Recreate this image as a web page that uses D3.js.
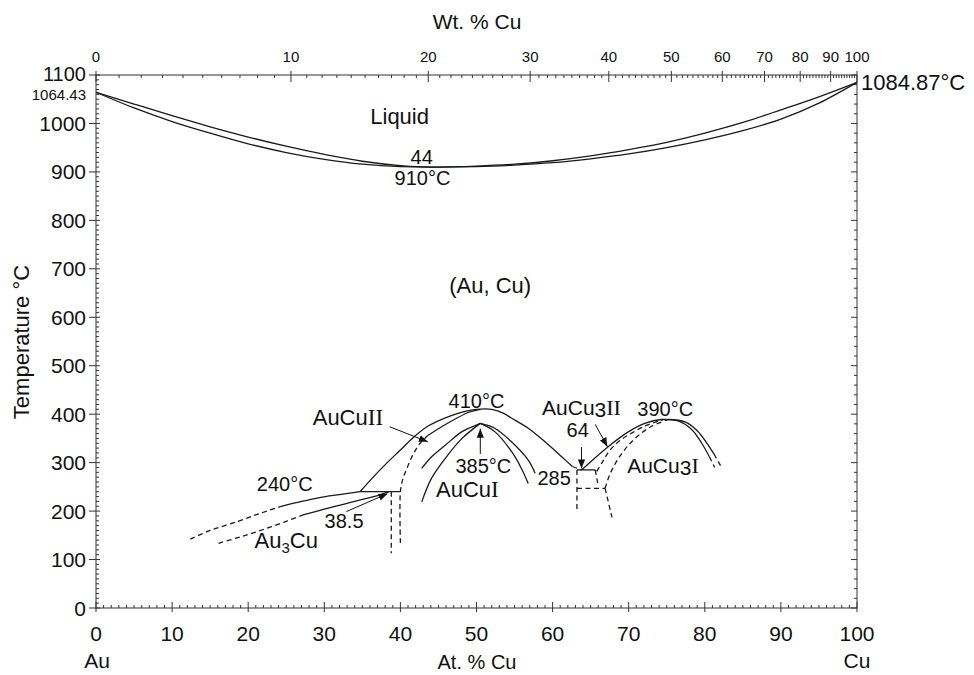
<!DOCTYPE html>
<html><head><meta charset="utf-8">
<script src="https://cdn.jsdelivr.net/npm/d3@7"></script>
<style>body{margin:0;background:#fff}svg text{font-family:"Liberation Sans",Arial,sans-serif;fill:#111}</style>
</head><body><svg id="c" width="974" height="675"></svg>
<script>
// ---------- data ----------
const AU_MASS = 196.967, CU_MASS = 63.546;
const atTicks = [0,10,20,30,40,50,60,70,80,90,100];
const tTicks = [0,100,200,300,400,500,600,700,800,900,1000,1100];
const wtTicks = [0,10,20,30,40,50,60,70,80,90,100];

// liquidus / solidus
const liqAt = [0,5,10,15,20,25,30,35,40,44,50,55,60,65,70,75,80,85,90,95,100];
const liqT  = [1064.43,1040,1016,993,972,953,936,922,913,910,912,916,923,933,946,961,980,1002,1028,1055,1084.87];
const solT  = [1064.43,1032,1004,980,958,940,926,916,911,910,911,914,919,927,937,950,966,985,1009,1042,1084.87];

// Au3Cu boundaries
const au3cuUpDashAt = [12.4,15,18.5,21.5,24.2];
const au3cuUpDashT  = [142,160,178,195,209];
const au3cuUpAt = [24.2,27,29.4,32,34.7];
const au3cuUpT  = [209,220,228,234,240];
const au3cuLoDashAt = [16.1,19,22,25,27.2];
const au3cuLoDashT  = [133.5,147,162,179,192];
const au3cuLoAt = [27.2,30,32.5,35,37,38.5];
const au3cuLoT  = [192,204,214,224,232,240];
const eutectoidAt = [34.7,40];
const eutectoidT  = [240,240];
const au3cuVertAt = [38.8,38.8];
const au3cuVertT  = [240,113];

// AuCuII
const outerDomeAt = [34.7,36.3,38.2,40,41.7,43.7,46.5,48.5,50,52,53.5,54.6,56.8,59,61.2,62.6];
const outerDomeT  = [240,268,299,326,352,376,396,406,410,410,402,392,371,343,312,292];
const outerDomeDashAt = [62.6,63.8];
const outerDomeDashT  = [292,285];
const cuIILeftDashAt = [40,40,40.3,40.9,41.6,42.5,43.6];
const cuIILeftDashT  = [134,240,265,290,315,338,356];
const cuIILeftAt = [43.6,45,47.2,49,50.5];
const cuIILeftT  = [356,370,390,404,410];

// AuCuI dome
const cuIOutLAt = [42.8,44.1,45.9,48.1,50.2,50.5];
const cuIOutLT  = [288,312,336,364,379,381];
const cuIInLAt  = [42.8,44.1,45.9,48.1,50.5];
const cuIInLT   = [219,268,309,350,381];
const cuIOutRAt = [50.5,52.4,54.6,56.8,57.7];
const cuIOutRT  = [381,371,343,305,278];
const cuIInRAt  = [50.5,52.4,54.6,55.9,56.8];
const cuIInRT   = [381,364,323,288,257];

// AuCu3 region
const cu3OuterAt = [63.8,67.3,70,72.1,74.3,76.5,78.3,79.6,80.6];
const cu3OuterT  = [285,333,364,381,389,386,368,340,312];
const cu3OuterDashAt = [80.6,81.3];
const cu3OuterDashT  = [312,290];
const cu3RightAt = [75.2,77.4,79,80.2,81.2];
const cu3RightT  = [389,384,366,342,318];
const cu3RightDashAt = [81.2,82.2];
const cu3RightDashT  = [318,290];
const cu3Dash1At = [65.8,66.5,67.5,68.8,70.5,72.5,74.5];
const cu3Dash1T  = [282,300,325,345,362,378,388];
const cu3Dash2At = [66.9,67.5,68.5,69.8,71.2,73,75.2];
const cu3Dash2T  = [247,275,305,333,355,375,389];
const cu3TopAt = [63.2,65.6];
const cu3TopT  = [285,285];
const cu3LeftVertAt = [63.2,63.2];
const cu3LeftVertT  = [285,202];
const cu3SmallVertAt = [65.6,66];
const cu3SmallVertT  = [285,252];
const cu3BottomAt = [63.2,66.9];
const cu3BottomT  = [247,247];
const cu3TailAt = [66.9,67.8];
const cu3TailT  = [247,187];

// arrows [x1,T1,x2,T2]
const arrows = [
  [38.6,374,43.6,343],
  [32.9,199,38.3,236],
  [50.5,318,50.5,370],
  [63.8,332,63.8,288],
  [65.6,379,67.2,333]
];

// ---------- drawing ----------
const svg = d3.select("#c");
const x = d3.scaleLinear([0,100],[96,857]);
const y = d3.scaleLinear([0,1100],[608,75]);
const wtToAt = w => { if (w>=100) return 100; const a=w/CU_MASS, b=(100-w)/AU_MASS; return 100*a/(a+b); };

svg.append("defs").append("marker").attr("id","ah").attr("viewBox","0 0 10 10")
  .attr("refX",10).attr("refY",5).attr("markerWidth",9).attr("markerHeight",9)
  .attr("markerUnits","userSpaceOnUse").attr("orient","auto")
  .append("path").attr("d","M0,1 L10,5 L0,9 Z").attr("fill","#111");

const g = svg.append("g");
g.append("rect").attr("x",x(0)).attr("y",y(1100)).attr("width",x(100)-x(0)).attr("height",y(0)-y(1100))
  .attr("fill","none").attr("stroke","#333").attr("stroke-width",1);

const tick = (x1,y1,x2,y2,w=1)=>g.append("line").attr("x1",x1).attr("y1",y1).attr("x2",x2).attr("y2",y2).attr("stroke","#333").attr("stroke-width",w);

// bottom axis
d3.range(0,101,1).forEach(v=>{ const maj = v%10===0; tick(x(v),y(0),x(v),y(0)-(maj?6:3)); if(maj) tick(x(v),y(0),x(v),y(0)+4);});
atTicks.forEach(v=>g.append("text").attr("x",x(v)).attr("y",y(0)+33).attr("text-anchor","middle").attr("font-size",21).text(v));
// left axis
d3.range(0,1101,10).forEach(v=>{ const maj=v%100===0; tick(x(0),y(v),x(0)+(maj?0:3),y(v)); if(maj) tick(x(0)-7,y(v),x(0)+4,y(v));});
tTicks.forEach(v=>g.append("text").attr("x",x(0)-10).attr("y",y(v)+(v===1100?6:7.5)).attr("text-anchor","end").attr("font-size",v===1100?20:21).text(v));
// right axis
d3.range(0,1101,20).forEach(v=>{ const maj=v%100===0; tick(x(100),y(v),x(100)-(maj?6:3),y(v)); });
// top axis
d3.range(0,101,1).forEach(w=>{ const maj = w%10===0; tick(x(wtToAt(w)),y(1100),x(wtToAt(w)),y(1100)+(maj?7:3)); if(maj) tick(x(wtToAt(w)),y(1100),x(wtToAt(w)),y(1100)-4);});
wtTicks.forEach(w=>g.append("text").attr("x",x(wtToAt(w))).attr("y",y(1100)-13).attr("text-anchor","middle").attr("font-size",15).text(w));

// axis titles
g.append("text").attr("x",477).attr("y",29).attr("text-anchor","middle").attr("font-size",21).text("Wt. % Cu");
g.append("text").attr("x",477).attr("y",669).attr("text-anchor","middle").attr("font-size",20).text("At. % Cu");
g.append("text").attr("transform","translate(29,342) rotate(-90)").attr("text-anchor","middle").attr("font-size",22).text("Temperature °C");
g.append("text").attr("x",x(0)+1).attr("y",668).attr("text-anchor","middle").attr("font-size",21).text("Au");
g.append("text").attr("x",x(100)).attr("y",668).attr("text-anchor","middle").attr("font-size",21).text("Cu");
g.append("text").attr("x",x(0)-10).attr("y",y(1064.43)+7.5).attr("text-anchor","end").attr("font-size",15).text("1064.43");
g.append("text").attr("x",x(100)+4).attr("y",y(1084.87)+8).attr("text-anchor","start").attr("font-size",22).text("1084.87°C");

// curves
const line = d3.line().x(d=>x(d[0])).y(d=>y(d[1])).curve(d3.curveCatmullRom.alpha(0.5));
const lineM = d3.line().x(d=>x(d[0])).y(d=>y(d[1])).curve(d3.curveMonotoneX);
const zip = (a,b)=>a.map((v,i)=>[v,b[i]]);
const draw = (a,b,dash,gen=line)=>g.append("path").attr("d",gen(zip(a,b))).attr("fill","none")
  .attr("stroke","#1a1a1a").attr("stroke-width",1.3).attr("stroke-dasharray",dash?"5,3.5":null);

draw(liqAt,liqT,false,lineM); draw(liqAt,solT,false,lineM);
draw(au3cuUpDashAt,au3cuUpDashT,true); draw(au3cuUpAt,au3cuUpT);
draw(au3cuLoDashAt,au3cuLoDashT,true); draw(au3cuLoAt,au3cuLoT);
draw(eutectoidAt,eutectoidT); draw(au3cuVertAt,au3cuVertT,true);
draw(outerDomeAt,outerDomeT); draw(outerDomeDashAt,outerDomeDashT,true);
draw(cuIILeftDashAt,cuIILeftDashT,true); draw(cuIILeftAt,cuIILeftT);
draw(cuIOutLAt,cuIOutLT); draw(cuIInLAt,cuIInLT); draw(cuIOutRAt,cuIOutRT); draw(cuIInRAt,cuIInRT);
draw(cu3OuterAt,cu3OuterT); draw(cu3OuterDashAt,cu3OuterDashT,true);
draw(cu3RightAt,cu3RightT); draw(cu3RightDashAt,cu3RightDashT,true);
draw(cu3Dash1At,cu3Dash1T,true); draw(cu3Dash2At,cu3Dash2T,true);
draw(cu3TopAt,cu3TopT); draw(cu3LeftVertAt,cu3LeftVertT,true); draw(cu3SmallVertAt,cu3SmallVertT,true);
draw(cu3BottomAt,cu3BottomT,true); draw(cu3TailAt,cu3TailT,true);

arrows.forEach(a=>g.append("line").attr("x1",x(a[0])).attr("y1",y(a[1])).attr("x2",x(a[2])).attr("y2",y(a[3]))
  .attr("stroke","#111").attr("stroke-width",1).attr("marker-end","url(#ah)"));

// labels (positions in data units)
const lab = (t,ax,tv,fs)=>g.append("text").attr("x",x(ax)).attr("y",y(tv)).attr("text-anchor","middle").attr("font-size",fs).text(t);
lab("Liquid",39.9,999,22);
lab("44",42.8,917,20);
lab("910°C",42.9,873,20);
lab("(Au, Cu)",51.8,650,22);
lab("410°C",50,413,20);
lab("390°C",74.8,396,20);
lab("64",63.3,353,20);
lab("385°C",50.9,278,20);
lab("285",60.2,253,20);
lab("240°C",24.8,242,20);
lab("38.5",32.6,166,20);
const au3 = g.append("text").attr("x",x(25)).attr("y",y(124)).attr("text-anchor","middle").attr("font-size",22);
au3.append("tspan").text("Au"); au3.append("tspan").attr("font-size",15).attr("dy",5).text("3"); au3.append("tspan").attr("dy",-5).text("Cu");
const roman = (pre, num, ax, tv)=>{ const t = g.append("text").attr("x",x(ax)).attr("y",y(tv)).attr("text-anchor","middle").attr("font-size",22);
  t.append("tspan").text(pre); t.append("tspan").attr("font-family","Liberation Serif, serif").attr("font-size",23).text(num); return t;};
roman("AuCu","II",33.1,377);
roman("AuCu","I",48.8,230);
const c3 = (num,ax,tv)=>{ const t = g.append("text").attr("x",x(ax)).attr("y",y(tv)).attr("text-anchor","middle").attr("font-size",21);
  t.append("tspan").text("AuCu"); t.append("tspan").attr("dy",2).text("3"); t.append("tspan").attr("dy",-2).attr("font-family","Liberation Serif, serif").attr("font-size",22).text(num); return t;};
c3("II",63.8,398);
c3("I",74.5,278);
</script></body></html>
